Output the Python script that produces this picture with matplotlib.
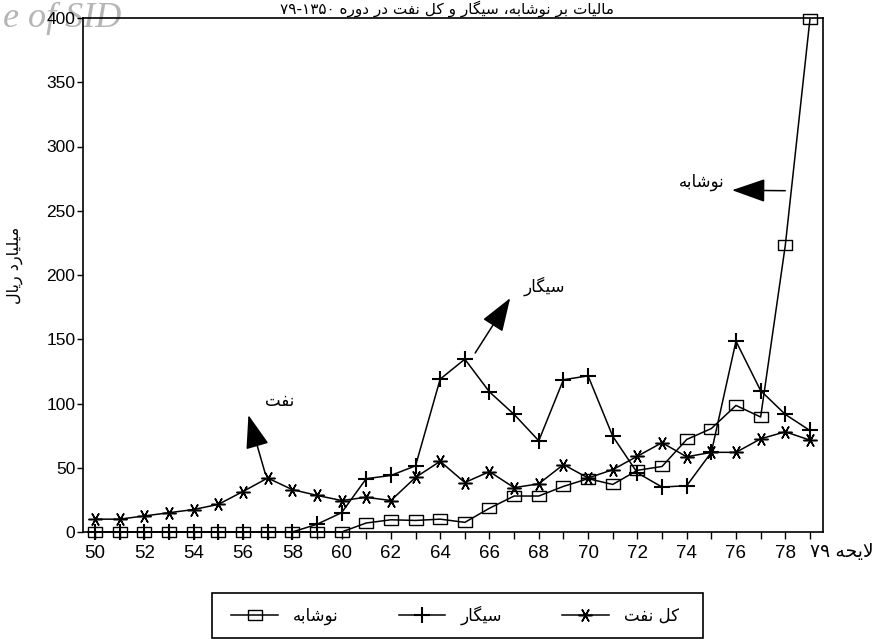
import re
import matplotlib
matplotlib.use("Agg")
import matplotlib.pyplot as plt
from matplotlib.patches import Rectangle

plt.rcParams['font.family'] = ['Liberation Sans', 'DejaVu Sans']

# ---------------- data ----------------
years = list(range(50, 80))
nooshabe = [0, 0, 0, 0, 0, 0, 0, 0, 0, 0, 0, 7, 9.5, 9, 10, 7.5, 18.5, 28, 28,
            35.5, 41.5, 37, 48, 51, 72, 80.5, 98.5, 89.5, 223, 399]
cigar = [0, 0, 0, 0, 0, 0, 0, 0, 0, 6, 15, 41.5, 44, 51.5, 119, 134.5, 109, 91.5,
         71, 118.5, 121.5, 74.5, 46, 35, 36, 62, 148.5, 110, 91.5, 79]
oil = [10, 10, 12.5, 15, 17.5, 21.5, 31.5, 42, 33, 28.5, 24.5, 27, 24.5, 42.5, 55,
       38.5, 47, 34.5, 37.5, 52.5, 42, 48.5, 59, 69.5, 58.5, 62, 62, 72.5, 78, 71.5]
series_names = ['نوشابه', 'سیگار', 'کل نفت']
yticks = [0, 50, 100, 150, 200, 250, 300, 350, 400]
xtick_labels = [str(y) if y % 2 == 0 else '' for y in range(50, 79)] + ['لایحه ۷۹']
title = 'مالیات بر نوشابه، سیگار و کل نفت در دوره ۷۹-۱۳۵۰'
ylabel = 'میلیارد ریال'
watermark = 'e of SID'

# ---------------- minimal Persian shaping ----------------
FORMS = {
    'ا': ('\uFE8D', '\uFE8E'), 'آ': ('\uFE81', '\uFE82'), 'د': ('\uFEA9', '\uFEAA'),
    'ذ': ('\uFEAB', '\uFEAC'), 'ر': ('\uFEAD', '\uFEAE'), 'ز': ('\uFEAF', '\uFEB0'),
    'ژ': ('\uFB8A', '\uFB8B'), 'و': ('\uFEED', '\uFEEE'),
    'ب': ('\uFE8F', '\uFE90', '\uFE91', '\uFE92'), 'پ': ('\uFB56', '\uFB57', '\uFB58', '\uFB59'),
    'ت': ('\uFE95', '\uFE96', '\uFE97', '\uFE98'), 'ث': ('\uFE99', '\uFE9A', '\uFE9B', '\uFE9C'),
    'ج': ('\uFE9D', '\uFE9E', '\uFE9F', '\uFEA0'), 'چ': ('\uFB7A', '\uFB7B', '\uFB7C', '\uFB7D'),
    'ح': ('\uFEA1', '\uFEA2', '\uFEA3', '\uFEA4'), 'خ': ('\uFEA5', '\uFEA6', '\uFEA7', '\uFEA8'),
    'س': ('\uFEB1', '\uFEB2', '\uFEB3', '\uFEB4'), 'ش': ('\uFEB5', '\uFEB6', '\uFEB7', '\uFEB8'),
    'ص': ('\uFEB9', '\uFEBA', '\uFEBB', '\uFEBC'), 'ض': ('\uFEBD', '\uFEBE', '\uFEBF', '\uFEC0'),
    'ط': ('\uFEC1', '\uFEC2', '\uFEC3', '\uFEC4'), 'ظ': ('\uFEC5', '\uFEC6', '\uFEC7', '\uFEC8'),
    'ع': ('\uFEC9', '\uFECA', '\uFECB', '\uFECC'), 'غ': ('\uFECD', '\uFECE', '\uFECF', '\uFED0'),
    'ف': ('\uFED1', '\uFED2', '\uFED3', '\uFED4'), 'ق': ('\uFED5', '\uFED6', '\uFED7', '\uFED8'),
    'ک': ('\uFB8E', '\uFB8F', '\uFB90', '\uFB91'), 'گ': ('\uFB92', '\uFB93', '\uFB94', '\uFB95'),
    'ل': ('\uFEDD', '\uFEDE', '\uFEDF', '\uFEE0'), 'م': ('\uFEE1', '\uFEE2', '\uFEE3', '\uFEE4'),
    'ن': ('\uFEE5', '\uFEE6', '\uFEE7', '\uFEE8'), 'ه': ('\uFEE9', '\uFEEA', '\uFEEB', '\uFEEC'),
    'ی': ('\uFBFC', '\uFBFD', '\uFBFE', '\uFBFF'),
}


def _joins_left(c):
    return c in FORMS and len(FORMS[c]) == 4


def _shape(s):
    out, i, n = [], 0, len(s)
    while i < n:
        c = s[i]
        if c not in FORMS:
            out.append(c)
            i += 1
            continue
        prev_join = i > 0 and _joins_left(s[i - 1])
        if c == 'ل' and i + 1 < n and s[i + 1] == 'ا':
            out.append('\uFEFC' if prev_join else '\uFEFB')
            i += 2
            continue
        next_join = _joins_left(c) and i + 1 < n and s[i + 1] in FORMS
        f = FORMS[c]
        if prev_join and next_join:
            g = f[3]
        elif prev_join:
            g = f[1]
        elif next_join:
            g = f[2]
        else:
            g = f[0]
        out.append(g)
        i += 1
    return ''.join(out)


def rtl(s):
    shaped = _shape(s)
    tokens = re.findall(r'[0-9۰-۹]+(?:-[0-9۰-۹]+)*|[^0-9۰-۹]+', shaped)
    out = []
    for t in reversed(tokens):
        out.append(t if re.match(r'[0-9۰-۹]', t) else t[::-1])
    return ''.join(out)


# ---------------- figure ----------------
W, H = 893, 639
fig = plt.figure(figsize=(W / 100, H / 100), dpi=100)
ax = fig.add_axes([83 / W, (H - 532) / H, (823 - 83) / W, (532 - 18) / H])
ax.patch.set_alpha(0)

lw = 1.1
rect = [(-1.4, -1), (1.4, -1), (1.4, 1), (-1.4, 1), (-1.4, -1)]
l1, = ax.plot(years, nooshabe, color='black', lw=lw, marker=rect, ms=10,
              mfc='none', mec='black', mew=1.0, clip_on=False, zorder=3)
l2, = ax.plot(years, cigar, color='black', lw=lw, marker='+', ms=11,
              mew=1.5, clip_on=False, zorder=3)
l3, = ax.plot(years, oil, color='black', lw=lw, marker=(6, 2, 90), ms=10,
              mew=1.1, clip_on=False, zorder=3)

ax.set_xlim(49.51, 79.53)
ax.set_ylim(0, 400)
ax.set_yticks(yticks)
ax.set_yticklabels([str(v) for v in yticks])
ax.set_xticks(years)
labels = [rtl(t) if not t.isdigit() and t else t for t in xtick_labels]
ax.set_xticklabels(labels)
for t in ax.get_xticklabels():
    if t.get_text() == labels[-1]:
        t.set_ha('left')
        t.set_fontsize(9.5)
ax.tick_params(axis='x', direction='out', length=5, width=1.0, labelsize=13.5, pad=4)
ax.tick_params(axis='y', direction='out', length=4.5, width=1.0, labelsize=12.5, pad=1)
for sp in ax.spines.values():
    sp.set_linewidth(1.2)

# annotations
arrow = dict(arrowstyle='-|>,head_length=1.0,head_width=0.35', color='black',
             lw=1.1, mutation_scale=21, shrinkA=0, shrinkB=0)
ax.annotate('', xy=(75.84, 266), xytext=(78.0, 265.6), arrowprops=arrow)
ax.text(74.6, 272, rtl('نوشابه'), ha='center', va='center', fontsize=12,
        family='DejaVu Sans')
ax.annotate('', xy=(66.84, 182), xytext=(65.42, 139.3), arrowprops=arrow)
ax.text(68.22, 191.5, rtl('سیگار'), ha='center', va='center', fontsize=12,
        family='DejaVu Sans')
ax.annotate('', xy=(56.22, 91), xytext=(56.9, 45.7), arrowprops=arrow)
ax.text(57.47, 102, rtl('نفت'), ha='center', va='center', fontsize=12,
        family='DejaVu Sans')

# title and y label
fig.text(0.5, 0.999, rtl(title), ha='center', va='top', fontsize=11,
         family='DejaVu Sans')
fig.text(15 / W, (H - 265) / H, rtl(ylabel), rotation=90, ha='center', va='center',
         fontsize=11.5, family='DejaVu Sans')

# watermark
fig.text(3 / W, (H - 18) / H, watermark, ha='left', va='center', fontsize=26,
         style='italic', family='Liberation Serif', color='#b5b5b5', zorder=-1)

# legend box
fig.patches.append(Rectangle((212 / W, 1 / H), (703 - 212) / W, (638 - 593) / H,
                             transform=fig.transFigure, fill=False, lw=1.2,
                             edgecolor='black'))
fig.legend([l1, l2, l3], [rtl(s) for s in series_names], loc='center left',
           bbox_to_anchor=(223 / W, (H - 615) / H), ncol=3, frameon=False,
           borderpad=0, handlelength=2.8, handletextpad=0.9, columnspacing=3.6,
           prop={'family': 'DejaVu Sans', 'size': 12})

fig.savefig('out.png', dpi=100)
